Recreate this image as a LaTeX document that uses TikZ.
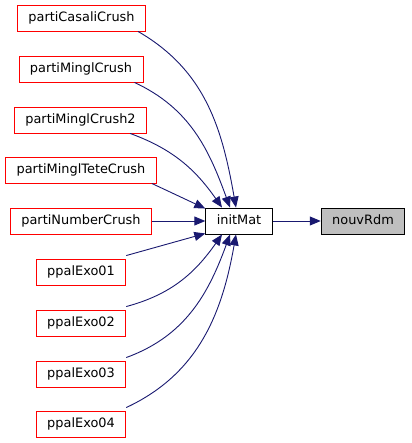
\documentclass[tikz,border=0pt]{standalone}
\usepackage{fontspec}
\setmainfont{DejaVu Sans}
\usetikzlibrary{arrows.meta}

\definecolor{edgeblue}{RGB}{25,25,112}
\definecolor{boxgray}{RGB}{191,191,191}

\tikzset{
    fn/.style={draw=red, fill=white, line width=0.9pt, minimum height=26pt,
        inner xsep=11pt, inner ysep=0pt, text height=9.6pt, text depth=2.7pt,
        font=\fontsize{12.9}{15}\selectfont},
    fnmain/.style={fn, draw=black},
    fncur/.style={fn, draw=black, fill=boxgray},
    call/.style={draw=edgeblue, line width=0.9pt, -{Triangle[length=11pt,width=9pt]}}
}

\begin{document}
\begin{tikzpicture}[x=1pt, y=-1pt]
    \useasboundingbox (0,0) rectangle (411,443);

    % 调用者
    \node[fn] (casali) at (81.5,18) {partiCasaliCrush};
    \node[fn] (minglA) at (81,69) {partiMinglCrush};
    \node[fn] (minglB) at (80.5,120) {partiMinglCrush2};
    \node[fn] (tete) at (81,170) {partiMinglTeteCrush};
    \node[fn] (number) at (81,221) {partiNumberCrush};
    \node[fn] (exoA) at (81,272) {ppalExo01};
    \node[fn] (exoB) at (81,323) {ppalExo02};
    \node[fn] (exoC) at (81,374) {ppalExo03};
    \node[fn] (exoD) at (81,424) {ppalExo04};

    % 中间函数与当前函数
    \node[fnmain] (initMat) at (239,221) {initMat};
    \node[fncur] (nouvRdm) at (363,221) {nouvRdm};

    % 上方的弯曲调用线
    \draw[call] ([xshift=-8pt]casali.south east) to[out=-30, in=100] ([xshift=-3pt]initMat.north);
    \draw[call] ([xshift=-9pt]minglA.south east) to[out=-25, in=110] ([xshift=-9pt]initMat.north);
    \draw[call] ([xshift=-17pt]minglB.south east) to[out=-20, in=125] ([xshift=-17pt]initMat.north);
    \draw[call] ([xshift=-5pt]tete.south east) -- ([yshift=-1pt]initMat.north west);

    % 水平调用线
    \draw[call] (number.east) -- (initMat.west);
    \draw[call] (initMat.east) -- (nouvRdm.west);

    % 下方的弯曲调用线
    \draw[call] ([yshift=3pt]exoA.north east) -- ([yshift=1pt]initMat.south west);
    \draw[call] ([yshift=3pt]exoB.north east) to[out=15, in=-125] ([xshift=-17pt]initMat.south);
    \draw[call] ([yshift=3pt]exoC.north east) to[out=20, in=-110] ([xshift=-9pt]initMat.south);
    \draw[call] ([yshift=3pt]exoD.north east) to[out=25, in=-100] ([xshift=-3pt]initMat.south);
\end{tikzpicture}
\end{document}
